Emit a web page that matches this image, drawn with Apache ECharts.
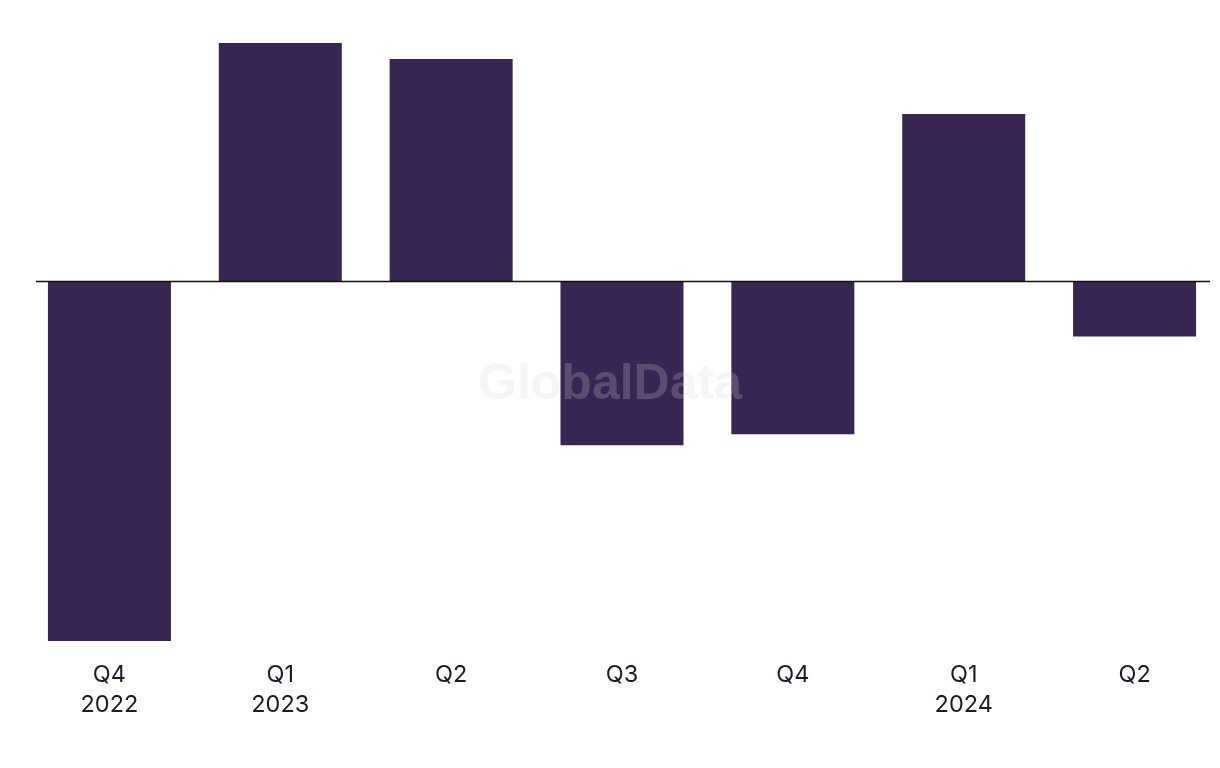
<!DOCTYPE html>
<html><head><meta charset="utf-8">
<script src="https://cdn.jsdelivr.net/npm/echarts@6/dist/echarts.min.js"></script>
<style>html,body{margin:0;padding:0;background:#fff}#c{width:1220px;height:768px}</style>
</head><body><div id="c"></div>
<script>
var categories = ['Q4\n2022', 'Q1\n2023', 'Q2', 'Q3', 'Q4', 'Q1\n2024', 'Q2'];
var values = [-36.0, 23.9, 22.3, -16.4, -15.3, 16.8, -5.5];

var chart = echarts.init(document.getElementById('c'), null, {renderer: 'canvas'});
chart.setOption({
  animation: false,
  grid: {left: 24, right: 0, top: 42, bottom: 127, containLabel: false},
  xAxis: {
    type: 'category', data: categories,
    axisLine: {show: false}, axisTick: {show: false},
    axisLabel: {color: '#1c1b2b', fontSize: 23.5, lineHeight: 30, margin: 19, fontFamily: 'Inter, "Noto Sans", sans-serif', interval: 0}
  },
  yAxis: {type: 'value', min: -36, max: 24, show: false, splitLine: {show: false}},
  series: [{
    type: 'bar', data: values, barWidth: 123,
    itemStyle: {color: '#372552'}
  }]
});
var y0 = chart.convertToPixel({yAxisIndex: 0}, 0);
chart.setOption({
  graphic: [
    {type: 'line', shape: {x1: 36, y1: y0, x2: 1210, y2: y0}, style: {stroke: '#111', lineWidth: 1.5}, z: 10},
    {type: 'text', left: 'center', top: 360, z: 20,
     style: {text: 'GlobalData', fontSize: 50, fontWeight: 'bold', fontFamily: '"Liberation Sans", Arial, sans-serif', fill: 'rgba(211,211,211,0.23)'}}
  ]
});
</script></body></html>
